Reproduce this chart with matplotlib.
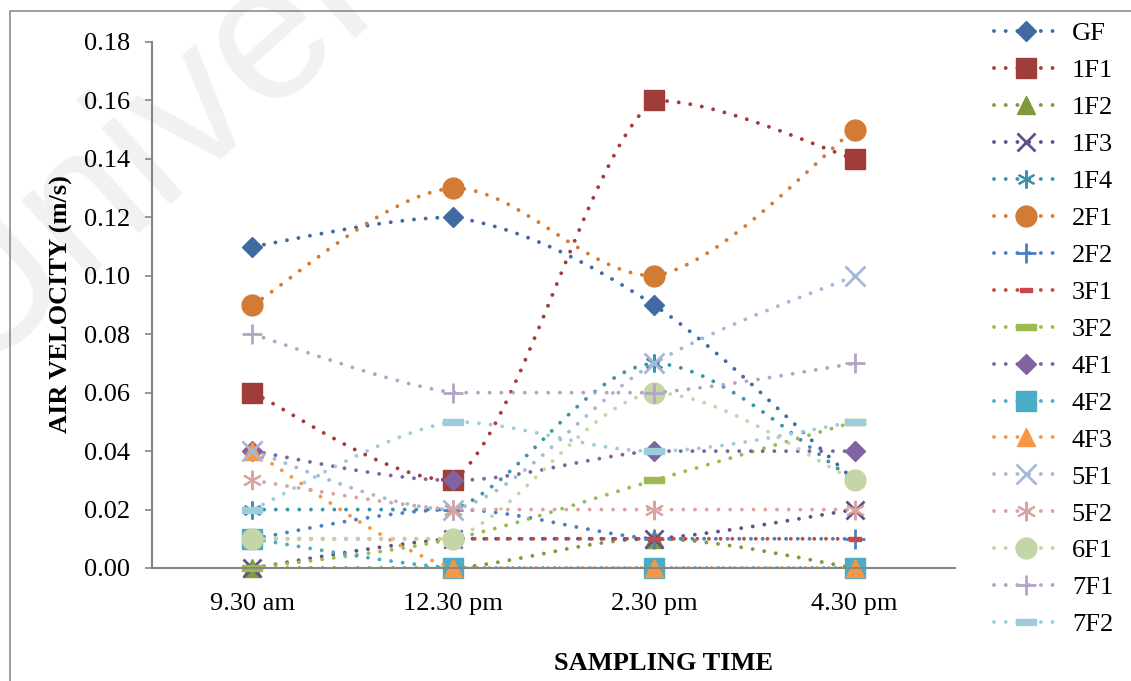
import numpy as np
import matplotlib
matplotlib.use("Agg")
import matplotlib.pyplot as plt
from matplotlib.path import Path
from matplotlib.patches import PathPatch, Rectangle
from matplotlib.lines import Line2D

plt.rcParams['font.family'] = ['Liberation Serif', 'DejaVu Serif']

times = ['9.30 am', '12.30 pm', '2.30 pm', '4.30 pm']
yticks = [0.00, 0.02, 0.04, 0.06, 0.08, 0.10, 0.12, 0.14, 0.16, 0.18]

names = ['GF', '1F1', '1F2', '1F3', '1F4', '2F1', '2F2', '3F1', '3F2',
         '4F1', '4F2', '4F3', '5F1', '5F2', '6F1', '7F1', '7F2']

gf = [0.11, 0.12, 0.09, 0.03]
f1_1 = [0.06, 0.03, 0.16, 0.14]
f1_2 = [0.00, 0.00, 0.01, 0.00]
f1_3 = [0.00, 0.01, 0.01, 0.02]
f1_4 = [0.02, 0.02, 0.07, 0.03]
f2_1 = [0.09, 0.13, 0.10, 0.15]
f2_2 = [0.01, 0.02, 0.01, 0.01]
f3_1 = [0.01, 0.01, 0.01, 0.01]
f3_2 = [0.00, 0.01, 0.03, 0.05]
f4_1 = [0.04, 0.03, 0.04, 0.04]
f4_2 = [0.01, 0.00, 0.00, 0.00]
f4_3 = [0.04, 0.00, 0.00, 0.00]
f5_1 = [0.04, 0.02, 0.07, 0.10]
f5_2 = [0.03, 0.02, 0.02, 0.02]
f6_1 = [0.01, 0.01, 0.06, 0.03]
f7_1 = [0.08, 0.06, 0.06, 0.07]
f7_2 = [0.02, 0.05, 0.04, 0.05]

series = [gf, f1_1, f1_2, f1_3, f1_4, f2_1, f2_2, f3_1, f3_2,
          f4_1, f4_2, f4_3, f5_1, f5_2, f6_1, f7_1, f7_2]

colors = ['#3F6AA3', '#A03C3A', '#7F9A3D', '#654F8A', '#3C93AB', '#D27B35',
          '#4A7EC6', '#C84845', '#9BBB4E', '#8064A2', '#4BACC6', '#F79646',
          '#A5B8D8', '#D9A3A1', '#C4D6A8', '#B3A5C8', '#9FCCDA']

dash = [(-1, -0.32), (1, -0.32), (1, 0.32), (-1, 0.32), (-1, -0.32)]
star = (6, 2, 0)
markers = ['D', 's', '^', 'x', star, 'o', '+', dash, dash,
           'D', 's', '^', 'x', star, 'o', '+', dash]
msizes = [10.5, 14, 13, 13, 13, 15, 14, 8, 15,
          10.5, 14, 13, 14, 14, 15, 14, 15]


def smooth_path(xs, ys, k=1 / 6):
    # smoothed line as bezier path, control points kept inside each segment's y range
    pts = np.column_stack([xs, ys]).astype(float)
    n = len(pts)
    verts = [pts[0]]
    codes = [Path.MOVETO]
    for i in range(n - 1):
        p0 = pts[i - 1] if i > 0 else pts[i]
        p1 = pts[i]
        p2 = pts[i + 1]
        p3 = pts[i + 2] if i + 2 < n else pts[i + 1]
        c1 = p1 + (p2 - p0) * k
        c2 = p2 - (p3 - p1) * k
        lo, hi = min(p1[1], p2[1]), max(p1[1], p2[1])
        c1[1] = np.clip(c1[1], lo, hi)
        c2[1] = np.clip(c2[1], lo, hi)
        verts += [c1, c2, p2]
        codes += [Path.CURVE4] * 3
    return Path(verts, codes)


fig = plt.figure(figsize=(11.31, 6.81), dpi=100)
ax = fig.add_axes([152 / 1131, 1 - 568 / 681, (955 - 152) / 1131, (568 - 42) / 681])

# faint watermark, behind everything
fig.text(0.209, 0.905, 'Universiti', fontsize=140, color='#f1f1f1', rotation=42,
         ha='center', va='center', family='Liberation Sans', zorder=-1)

# outer chart frame
fig.patches.append(Rectangle((10 / 1131, -0.1), 1.2, 1 - 11 / 681 + 0.1,
                             transform=fig.transFigure, fill=False,
                             ec='#8c8c8c', lw=1.2))

x = np.arange(len(times))
dots = (0, (0.01, 3.0))
handles = []
for i, (name, vals) in enumerate(zip(names, series)):
    c = colors[i]
    mk = markers[i]
    ms = msizes[i]
    mew = 2 if mk in ('x', '+') else (1.5 if mk == star else 1)
    patch = PathPatch(smooth_path(x, vals), fill=False, ec=c, lw=2.8,
                      ls=dots, capstyle='round', zorder=2 + i * 0.02)
    ax.add_patch(patch)
    ax.plot(x, vals, ls='none', marker=mk, ms=ms, color=c, mec=c, mew=mew,
            zorder=2.01 + i * 0.02, clip_on=False)
    handles.append(Line2D([], [], color=c, lw=2.8, ls=dots,
                          dash_capstyle='round', marker=mk, ms=ms, mec=c,
                          mew=mew))

ax.set_xlim(-0.5, 3.5)
ax.set_ylim(0, 0.18)
ax.set_xticks(x)
ax.set_xticklabels(times, fontsize=19)
ax.set_yticks(yticks)
ax.set_yticklabels(['%.2f' % v for v in yticks], fontsize=19)
ax.tick_params(axis='x', length=0, pad=18)
ax.tick_params(axis='y', length=5, width=1.2, color='#868686', pad=11)
for s in ['top', 'right']:
    ax.spines[s].set_visible(False)
for s in ['left', 'bottom']:
    ax.spines[s].set_color('#868686')
    ax.spines[s].set_linewidth(1.5)
ax.patch.set_alpha(0)

fig.text(61 / 1131, 1 - 304 / 681, 'AIR VELOCITY (m/s)', rotation=90,
         fontsize=19, fontweight='bold', ha='center', va='center')
fig.text(663 / 1131, 1 - 663 / 681, 'SAMPLING TIME', fontsize=19,
         fontweight='bold', ha='center', va='center')

fig.legend(handles, names, loc='upper left',
           bbox_to_anchor=(994 / 1131, 1 - 22 / 681), frameon=False,
           fontsize=19, numpoints=1, handlelength=2.4, handletextpad=0.55,
           labelspacing=0.51, borderaxespad=0, borderpad=0)

fig.savefig('out.png', dpi=100)
